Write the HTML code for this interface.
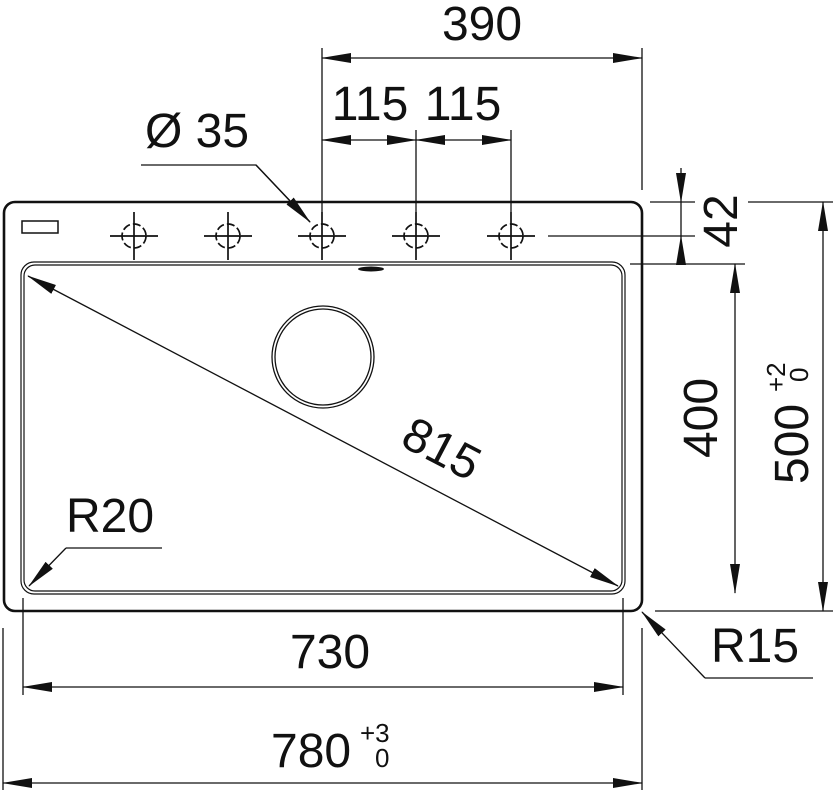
<!DOCTYPE html>
<html><head><meta charset="utf-8"><style>
html,body{margin:0;padding:0;background:#fff;}
svg{display:block;}
text{font-family:"Liberation Sans",Arial,sans-serif;fill:#111;}
</style></head><body>
<svg width="833" height="795" viewBox="0 0 833 795" xmlns="http://www.w3.org/2000/svg">
<defs>
<marker id="a" markerWidth="30" markerHeight="10" refX="29" refY="5" orient="auto-start-reverse" markerUnits="userSpaceOnUse">
<path d="M0,0 L30,5 L0,10 Z" fill="#111"/>
</marker>
</defs>
<g fill="none" stroke="#111">
<rect x="4" y="202" width="638" height="409" rx="11" stroke-width="2.6"/>
<rect x="21" y="262" width="604" height="332" rx="13" stroke-width="1.2"/>
<rect x="24" y="265" width="598" height="326" rx="11" stroke-width="1.2"/>
<rect x="22" y="221" width="36" height="12" stroke-width="1.5"/>
<circle cx="323" cy="357" r="51" stroke-width="1.3"/>
<circle cx="323" cy="357" r="48" stroke-width="1.3"/>
<g stroke-width="1.7">
<circle cx="134" cy="236" r="12" stroke-dasharray="8,3"/><path d="M110,236h48M134,212v48"/>
<circle cx="228" cy="236" r="12" stroke-dasharray="8,3"/><path d="M204,236h48M228,212v48"/>
<circle cx="322" cy="236" r="12" stroke-dasharray="8,3"/><path d="M298,236h48M322,212v48"/>
<circle cx="416" cy="236" r="12" stroke-dasharray="8,3"/><path d="M392,236h48M416,212v48"/>
<circle cx="511" cy="236" r="12" stroke-dasharray="8,3"/><path d="M487,236h48M511,212v48"/>
</g>
<g stroke-width="1.3">
<path d="M322,48V212M642,48V190M416,130V212M511,130V212"/>
<path d="M650,202H695M548,236H695M630,264H745M748,202H833M655,611H833"/>
<path d="M23,598V695M623,598V695M3,628V790M642,628V790"/>
<path d="M141,165H256L310,222"/>
<path d="M66,548H162"/>
<path d="M705,678H813"/>
</g>
<g stroke-width="1.3">
<line x1="322" y1="58" x2="642" y2="58" marker-start="url(#a)" marker-end="url(#a)"/>
<line x1="322" y1="140" x2="416" y2="140" marker-start="url(#a)" marker-end="url(#a)"/>
<line x1="416" y1="140" x2="511" y2="140" marker-start="url(#a)" marker-end="url(#a)"/>
<line x1="681" y1="168" x2="681" y2="202" marker-end="url(#a)"/>
<line x1="681" y1="202" x2="681" y2="236"/>
<line x1="681" y1="264" x2="681" y2="236" marker-end="url(#a)"/>
<line x1="735" y1="264" x2="735" y2="593" marker-start="url(#a)" marker-end="url(#a)"/>
<line x1="823" y1="202" x2="823" y2="611" marker-start="url(#a)" marker-end="url(#a)"/>
<line x1="23" y1="687" x2="623" y2="687" marker-start="url(#a)" marker-end="url(#a)"/>
<line x1="3" y1="783" x2="642" y2="783" marker-start="url(#a)" marker-end="url(#a)"/>
<line x1="28" y1="276" x2="618" y2="586" marker-start="url(#a)" marker-end="url(#a)"/>
<line x1="256" y1="165" x2="310" y2="222" marker-end="url(#a)"/>
<line x1="66" y1="548" x2="29" y2="586" marker-end="url(#a)"/>
<line x1="705" y1="678" x2="642" y2="612" marker-end="url(#a)"/>
</g>
</g>
<ellipse cx="371" cy="269" rx="13" ry="2.5" fill="#111"/>
<g font-size="48">
<text x="482" y="40" text-anchor="middle">390</text>
<text x="370" y="120" text-anchor="middle">115</text>
<text x="463" y="120" text-anchor="middle">115</text>
<text x="145" y="147">Ø 35</text>
<text x="66" y="532">R20</text>
<text x="330" y="668" text-anchor="middle">730</text>
<text x="271" y="767">780</text>
<text x="711" y="662">R15</text>
<text transform="translate(737,221) rotate(-90)" text-anchor="middle">42</text>
<text transform="translate(717,418) rotate(-90)" text-anchor="middle">400</text>
<text transform="translate(808,444) rotate(-90)" text-anchor="middle">500</text>
<text transform="translate(440,452) rotate(27.6)" text-anchor="middle" dominant-baseline="middle">815</text>
</g>
<g font-size="26">
<text x="360" y="742">+3</text>
<text x="375" y="767">0</text>
<text transform="translate(785,392) rotate(-90)">+2</text>
<text transform="translate(808,382) rotate(-90)">0</text>
</g>
</svg>
</body></html>
